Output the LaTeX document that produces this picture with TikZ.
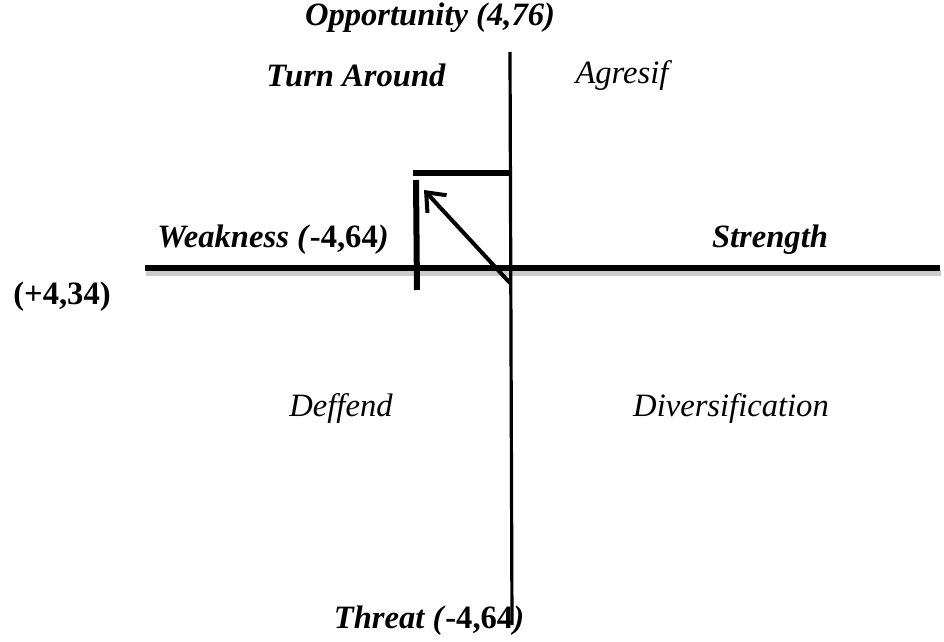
\documentclass[tikz,border=0pt]{standalone}
\usepackage{fontspec}
\setmainfont{Liberation Serif}
\usetikzlibrary{arrows.meta}
\tikzset{
  axis/.style={line width=3pt},
  thinaxis/.style={line width=1.6pt},
  shade/.style={line width=3pt,black!20},
  lbl/.style={font=\fontsize{16.3}{19}\selectfont\bfseries\itshape},
  quad/.style={font=\fontsize{16.3}{19}\selectfont\itshape}
}
\begin{document}
\begin{tikzpicture}[x=0.5pt,y=-0.5pt]
\useasboundingbox (0,0) rectangle (944,642);
\coordinate (wl) at (145,268);
\coordinate (wr) at (940,268);
\coordinate (ot) at (510,52);
\coordinate (ob) at (512,625);
\coordinate (bl) at (413,173);
\coordinate (br) at (512,173);
\coordinate (vt) at (416,180);
\coordinate (vb) at (417,290);
\coordinate (as) at (510,283);
\coordinate (ae) at (424,190);
\draw[shade] ([shift={(1,5)}]wl) -- ([shift={(1,5)}]wr);
\draw[axis] (wl) -- (wr);
\draw[thinaxis] (ot) -- (ob);
\draw[axis] (bl) -- (br);
\draw[axis] (vt) -- (vb);
\draw[line width=2pt,-{Straight Barb[length=8pt,width=13pt]}] (as) -- (ae);
\node[lbl] (opp) at (430,18) {Opportunity (4,76)};
\node[lbl] (turn) at (356,75) {Turn Around};
\node[quad] (agr) at (622,75) {Agresif};
\node[lbl] (weak) at (273,240) {Weakness (\textup{-4,64})};
\node[lbl] (str) at (770,240) {Strength};
\node[lbl] (plus) at (62,297) {\textup{(+4,34)}};
\node[quad] (def) at (341,408) {Deffend};
\node[quad] (div) at (731,408) {Diversification};
\node[lbl] (thr) at (429,621) {Threat (\textup{-4,64})};
\end{tikzpicture}
\end{document}
